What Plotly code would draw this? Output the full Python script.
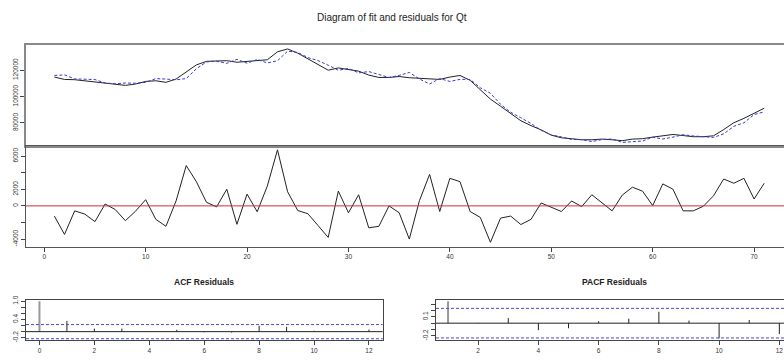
import plotly.graph_objects as go

# ---------------- data ----------------
t = list(range(1, 72))
actual = [114800, 113000, 112800, 112000, 111000, 110500, 109300, 108500, 109500, 111500,
          112000, 110800, 113300, 118500, 124000, 126700, 126700, 127200, 126000, 126700,
          127400, 127900, 133900, 136100, 132900, 128600, 124900, 120000, 121700, 120500,
          119300, 116300, 114500, 114500, 115200, 114300, 114000, 113300, 113000, 114800,
          116000, 112300, 105300, 98100, 92700, 86900, 81700, 78000, 74800, 70800,
          68800, 68100, 67300, 67300, 67800, 67300, 66600, 67800, 68100, 69300,
          70500, 71300, 70500, 69600, 69600, 70300, 75000, 80200, 83500, 87200, 91200]
fitted = [116030, 116440, 113400, 112990, 112900, 110270, 109740, 110280, 110140, 110750,
          113620, 113260, 112700, 113640, 121080, 126270, 126820, 125190, 128220, 125280,
          128110, 125500, 127140, 134400, 133460, 129550, 127270, 123800, 119920, 121330,
          117960, 118950, 116960, 114500, 116030, 118300, 113370, 109500, 113680, 111480,
          113080, 112980, 106690, 102490, 94170, 88130, 83950, 79620, 74450, 71000,
          69480, 67510, 67380, 65960, 67450, 67900, 65300, 65550, 66320, 69260,
          67850, 69290, 71100, 70200, 69640, 69080, 71760, 77470, 80180, 86370, 88470]
residuals = [-1230, -3440, -600, -990, -1900, 230, -440, -1780, -640, 750,
             -1620, -2460, 600, 4860, 2920, 430, -120, 2010, -2220, 1420,
             -710, 2400, 6760, 1700, -560, -950, -2370, -3800, 1780, -830,
             1340, -2650, -2460, 0, -830, -4000, 630, 3800, -680, 3320,
             2920, -680, -1390, -4390, -1470, -1230, -2250, -1620, 350, -200,
             -680, 590, -80, 1340, 350, -600, 1300, 2250, 1780, 40,
             2650, 2010, -600, -600, -40, 1220, 3240, 2730, 3320, 830, 2730]

acf_lags = list(range(0, 13))
acf_vals = [1.0, 0.355, 0.10, 0.10, 0.02, 0.06, -0.02, -0.03, 0.19, 0.16, 0.03, 0.02, 0.07]
pacf_lags = list(range(1, 13))
pacf_vals = [0.345, 0.005, 0.08, -0.11, -0.08, 0.03, 0.07, 0.18, 0.04, -0.24, 0.05, -0.17]
ci = 0.2326

top_yticks = [80000, 100000, 120000]
top_ylabels = ["80000", "100000", "120000"]
res_yticks = [-4000, -2000, 0, 2000, 4000, 6000]
res_ylabels = ["-4000", "", "0", "2000", "", "6000"]
res_xticks = [0, 10, 20, 30, 40, 50, 60, 70]
acf_yticks = [-0.2, 0.0, 0.2, 0.4, 0.6, 0.8, 1.0]
acf_ylabels = ["-0.2", "", "", "0.4", "", "", "1.0"]
acf_xticks = [0, 2, 4, 6, 8, 10, 12]
pacf_yticks = [-0.2, -0.1, 0.0, 0.1, 0.2, 0.3]
pacf_ylabels = ["-0.2", "", "", "0.1", "", ""]
pacf_xticks = [2, 4, 6, 8, 10, 12]

W, H = 784, 361
def px(x): return x / W
def py(y): return 1 - y / H

def stems(lags, vals):
    xs, ys = [], []
    for l, v in zip(lags, vals):
        xs += [l, l, None]
        ys += [0, v, None]
    return xs, ys

fig = go.Figure()
fig.add_trace(go.Scatter(x=t, y=actual, mode="lines", line=dict(color="#222222", width=1),
                         xaxis="x", yaxis="y", showlegend=False))
fig.add_trace(go.Scatter(x=t, y=fitted, mode="lines", line=dict(color="#3a3ad0", width=1, dash="3px,2px"),
                         xaxis="x", yaxis="y", showlegend=False))
fig.add_trace(go.Scatter(x=t, y=residuals, mode="lines", line=dict(color="#222222", width=1),
                         xaxis="x2", yaxis="y2", showlegend=False))

ax, ay = stems(acf_lags[1:], acf_vals[1:])
fig.add_trace(go.Scatter(x=ax, y=ay, mode="lines", line=dict(color="#222222", width=1),
                         xaxis="x3", yaxis="y3", showlegend=False))
ax0, ay0 = stems(acf_lags[:1], acf_vals[:1])
fig.add_trace(go.Scatter(x=ax0, y=ay0, mode="lines", line=dict(color="#999999", width=2),
                         xaxis="x3", yaxis="y3", showlegend=False))
bx, by = stems(pacf_lags[1:], pacf_vals[1:])
fig.add_trace(go.Scatter(x=bx, y=by, mode="lines", line=dict(color="#222222", width=1),
                         xaxis="x4", yaxis="y4", showlegend=False))
bx0, by0 = stems(pacf_lags[:1], pacf_vals[:1])
fig.add_trace(go.Scatter(x=bx0, y=by0, mode="lines", line=dict(color="#999999", width=2),
                         xaxis="x4", yaxis="y4", showlegend=False))

tickfont = dict(family="Liberation Sans, Arial, sans-serif", size=6.5, color="#333333")
common = dict(showgrid=False, zeroline=False, showline=True, tickfont=tickfont,
              ticks="outside", ticklen=4, tickcolor="#444444", tickwidth=1)

top_dom = [px(26), 1.0]
fig.update_layout(
    width=W, height=H, margin=dict(l=0, r=0, t=0, b=0),
    paper_bgcolor="white", plot_bgcolor="white",
    font=dict(family="Liberation Sans, Arial, sans-serif"),
    xaxis=dict(domain=top_dom, range=[-1.8, 72.95], anchor="y", showticklabels=False,
               showgrid=False, zeroline=False, showline=True, mirror=True,
               linecolor="#888888", linewidth=1.5, ticks=""),
    yaxis=dict(domain=[py(144.5), py(42)], range=[62500, 138850], anchor="x",
               tickvals=top_yticks, ticktext=top_ylabels, tickangle=-90,
               linecolor="#888888", linewidth=1.5, **common),
    xaxis2=dict(domain=top_dom, range=[-1.8, 72.95], anchor="y2", tickvals=res_xticks,
                mirror=True, linecolor="#555555", linewidth=1, **common),
    yaxis2=dict(domain=[py(246.7), py(144.5)], range=[-4910, 7210], anchor="x2",
                tickvals=res_yticks, ticktext=res_ylabels, tickangle=-90,
                linecolor="#555555", linewidth=1, **common),
    xaxis3=dict(domain=[px(26), px(382.7)], range=[-0.49, 12.5], anchor="y3",
                tickvals=acf_xticks, mirror=True, linecolor="#444444", linewidth=1, **common),
    yaxis3=dict(domain=[py(341.7), py(300.7)], range=[-0.275, 1.05], anchor="x3",
                tickvals=acf_yticks, ticktext=acf_ylabels, tickangle=-90, mirror=True,
                linecolor="#444444", linewidth=1, **common),
    xaxis4=dict(domain=[px(436), 1.0], range=[0.6, 12.155], anchor="y4",
                tickvals=pacf_xticks, mirror=True, linecolor="#444444", linewidth=1, **common),
    yaxis4=dict(domain=[py(341.7), py(300.7)], range=[-0.265, 0.369], anchor="x4",
                tickvals=pacf_yticks, ticktext=pacf_ylabels, tickangle=-90,
                linecolor="#444444", linewidth=1, **common),
)

shapes = [
    dict(type="line", xref="x2 domain", yref="y2", x0=0, x1=1, y0=0, y1=0,
         line=dict(color="#d03030", width=1)),
    dict(type="line", xref="x3 domain", yref="y3", x0=0, x1=1, y0=0, y1=0,
         line=dict(color="#222222", width=1)),
    dict(type="line", xref="x4 domain", yref="y4", x0=0, x1=1, y0=0, y1=0,
         line=dict(color="#222222", width=1)),
]
for ci_v in (ci, -ci):
    shapes.append(dict(type="line", xref="x3 domain", yref="y3", x0=0, x1=1, y0=ci_v, y1=ci_v,
                       line=dict(color="#4a4ad0", width=1, dash="3px,2px")))
    shapes.append(dict(type="line", xref="x4 domain", yref="y4", x0=0, x1=1, y0=ci_v, y1=ci_v,
                       line=dict(color="#4a4ad0", width=1, dash="3px,2px")))
fig.update_layout(shapes=shapes)

fig.add_annotation(text="Diagram of fit and residuals for Qt", xref="paper", yref="paper",
                   x=px(392), y=py(14), showarrow=False, xanchor="center", yanchor="middle",
                   font=dict(size=10, color="#222222"))
fig.add_annotation(text="<b>ACF Residuals</b>", xref="paper", yref="paper",
                   x=px(204), y=py(283), showarrow=False, xanchor="center", yanchor="middle",
                   font=dict(size=8.5, color="#222222"))
fig.add_annotation(text="<b>PACF Residuals</b>", xref="paper", yref="paper",
                   x=px(614), y=py(283), showarrow=False, xanchor="center", yanchor="middle",
                   font=dict(size=8.5, color="#222222"))

fig.write_html("out.html")
